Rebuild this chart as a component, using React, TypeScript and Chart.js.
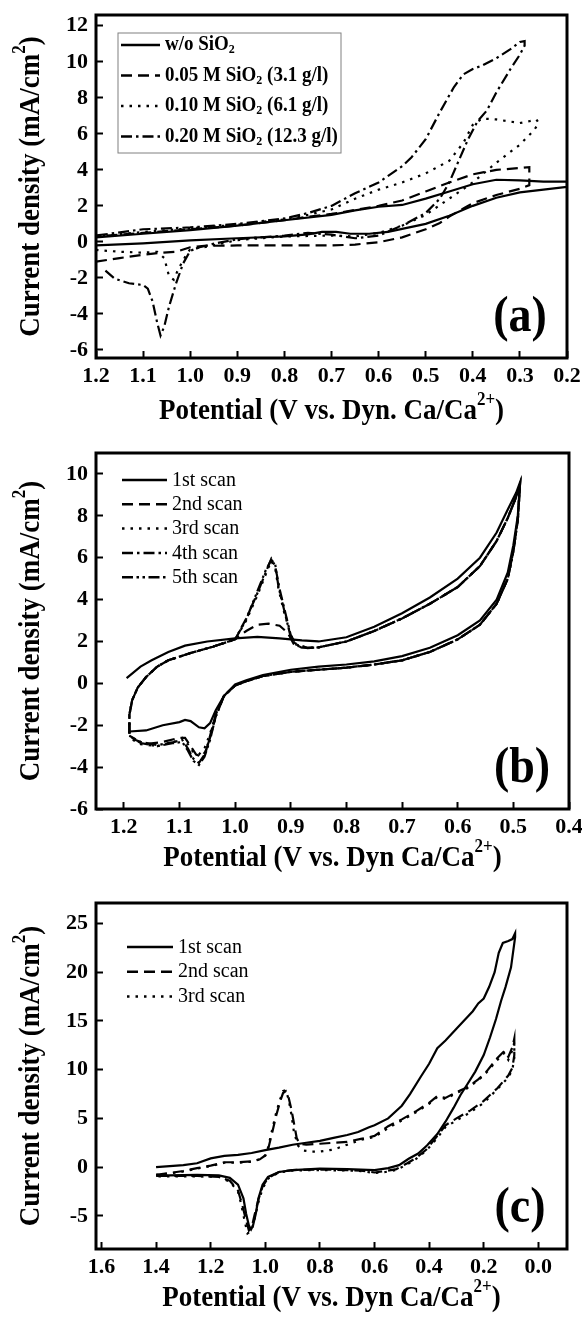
import React, { useEffect, useRef } from "react";
import { Chart, registerables } from "chart.js";

Chart.register(...registerables);

const FONT = "'Liberation Serif', 'Times New Roman', Times, serif";

type XY = [number, number];

// ---------------- Panel (a) ----------------
const A_X_TICKS = [1.2, 1.1, 1.0, 0.9, 0.8, 0.7, 0.6, 0.5, 0.4, 0.3, 0.2];
const A_Y_TICKS = [12, 10, 8, 6, 4, 2, 0, -2, -4, -6];
const A_LABELS = [
  "w/o SiO₂",
  "0.05 M SiO₂ (3.1 g/l)",
  "0.10 M SiO₂ (6.1 g/l)",
  "0.20 M SiO₂ (12.3 g/l)",
];
const A_NO_SIO2: XY[] = [
  [1.2, -0.2], [1.1, -0.08], [1.0, 0.08], [0.9, 0.2], [0.8, 0.3], [0.75, 0.42], [0.72, 0.55],
  [0.69, 0.55], [0.66, 0.45], [0.62, 0.45], [0.58, 0.55], [0.55, 0.72], [0.5, 1.0], [0.45, 1.45],
  [0.4, 2.0], [0.35, 2.45], [0.3, 2.75], [0.25, 2.9], [0.2, 3.05], [0.2, 3.35], [0.25, 3.35],
  [0.3, 3.42], [0.35, 3.45], [0.4, 3.2], [0.45, 2.8], [0.5, 2.4], [0.55, 2.05], [0.6, 1.95],
  [0.65, 1.75], [0.7, 1.5], [0.8, 1.2], [0.9, 0.9], [1.0, 0.65], [1.1, 0.45], [1.2, 0.25],
];
const A_005M: XY[] = [
  [1.2, -1.1], [1.15, -0.9], [1.1, -0.72], [1.06, -0.6], [1.03, -0.55], [1.0, -0.3], [0.97, -0.22],
  [0.9, -0.2], [0.8, -0.2], [0.7, -0.2], [0.65, -0.15], [0.6, -0.02], [0.55, 0.25], [0.5, 0.7],
  [0.47, 1.05], [0.45, 1.4], [0.42, 1.85], [0.4, 2.15], [0.35, 2.6], [0.3, 2.95], [0.28, 3.15],
  [0.28, 4.15], [0.3, 4.1], [0.35, 4.0], [0.4, 3.75], [0.45, 3.3], [0.5, 2.8], [0.55, 2.3],
  [0.6, 2.0], [0.7, 1.55], [0.75, 1.4], [0.8, 1.2], [0.9, 0.9], [1.0, 0.7], [1.1, 0.5], [1.2, 0.3],
];
const A_010M: XY[] = [
  [1.2, -0.45], [1.15, -0.55], [1.1, -0.6], [1.07, -0.55], [1.055, -0.9], [1.045, -1.9], [1.035, -2.1],
  [1.025, -1.5], [1.01, -0.8], [1.0, -0.4], [0.97, -0.3], [0.9, 0.1], [0.8, 0.3], [0.7, 0.35],
  [0.65, 0.3], [0.6, 0.5], [0.55, 0.9], [0.5, 1.5], [0.45, 2.4], [0.4, 3.3], [0.35, 4.4], [0.3, 5.4],
  [0.27, 6.2], [0.26, 6.6], [0.265, 6.8], [0.28, 6.7], [0.3, 6.6], [0.35, 6.8], [0.38, 6.85],
  [0.4, 6.5], [0.42, 5.5], [0.45, 4.5], [0.5, 3.8], [0.55, 3.3], [0.6, 2.9], [0.65, 2.4], [0.7, 1.8],
  [0.75, 1.5], [0.8, 1.25], [0.9, 0.95], [1.0, 0.75], [1.1, 0.55], [1.2, 0.3],
];
const A_020M: XY[] = [
  [1.18, -1.6], [1.16, -2.05], [1.13, -2.3], [1.1, -2.4], [1.09, -2.6], [1.08, -3.3], [1.07, -4.5],
  [1.063, -5.2], [1.055, -4.7], [1.045, -3.6], [1.03, -2.3], [1.015, -1.2], [1.0, -0.5], [0.98, -0.3],
  [0.95, -0.1], [0.9, 0.15], [0.8, 0.35], [0.75, 0.5], [0.7, 0.4], [0.65, 0.2], [0.6, 0.35],
  [0.55, 0.9], [0.5, 1.6], [0.47, 2.4], [0.45, 3.3], [0.43, 4.5], [0.41, 5.7], [0.39, 6.7],
  [0.37, 7.3], [0.35, 8.3], [0.32, 9.6], [0.3, 10.4], [0.29, 10.9], [0.29, 11.15], [0.3, 11.1],
  [0.32, 10.7], [0.35, 10.2], [0.38, 9.8], [0.4, 9.6], [0.42, 9.3], [0.44, 8.6], [0.47, 7.2],
  [0.5, 5.7], [0.53, 4.7], [0.55, 4.2], [0.6, 3.3], [0.65, 2.7], [0.7, 2.0], [0.75, 1.6], [0.8, 1.3],
  [0.9, 1.0], [1.0, 0.8], [1.1, 0.7], [1.2, 0.35],
];

// ---------------- Panel (b) ----------------
const B_X_TICKS = [1.2, 1.1, 1.0, 0.9, 0.8, 0.7, 0.6, 0.5, 0.4];
const B_Y_TICKS = [10, 8, 6, 4, 2, 0, -2, -4, -6];
const B_LABELS = ["1st scan", "2nd scan", "3rd scan", "4th scan", "5th scan"];
const B_SCAN1: XY[] = [
  [1.195, 0.25], [1.17, 0.8], [1.15, 1.1], [1.12, 1.5], [1.09, 1.8], [1.05, 2.0], [1.0, 2.15],
  [0.96, 2.22], [0.92, 2.15], [0.88, 2.05], [0.85, 2.0], [0.8, 2.2], [0.75, 2.7], [0.7, 3.35],
  [0.65, 4.1], [0.6, 5.0], [0.56, 6.0], [0.53, 7.2], [0.51, 8.3], [0.495, 9.1], [0.488, 9.6],
  [0.492, 8.0], [0.5, 6.6], [0.51, 5.3], [0.53, 4.0], [0.56, 3.0], [0.6, 2.3], [0.65, 1.7],
  [0.7, 1.3], [0.75, 1.05], [0.8, 0.9], [0.85, 0.8], [0.9, 0.65], [0.95, 0.4], [0.98, 0.15],
  [1.0, -0.05], [1.02, -0.6], [1.035, -1.3], [1.045, -1.9], [1.055, -2.15], [1.065, -2.1],
  [1.08, -1.8], [1.09, -1.75], [1.1, -1.85], [1.13, -2.0], [1.16, -2.25], [1.19, -2.3],
];
const B_RISE: XY[] = [
  [1.19, -2.4], [1.19, -1.5], [1.185, -0.8], [1.175, -0.2], [1.16, 0.3], [1.14, 0.8], [1.12, 1.1],
  [1.08, 1.45], [1.04, 1.75], [1.0, 2.1],
];
const B_PEAK2: XY[] = [[0.98, 2.5], [0.96, 2.8], [0.94, 2.85], [0.92, 2.75], [0.905, 2.4], [0.895, 1.9], [0.88, 1.7], [0.86, 1.7]];
const B_PEAK3: XY[] = [[0.98, 3.0], [0.96, 4.2], [0.945, 5.2], [0.935, 5.85], [0.928, 5.5], [0.922, 4.5], [0.912, 3.4], [0.9, 2.3], [0.89, 1.85], [0.87, 1.7]];
const B_PEAK4: XY[] = [[0.98, 3.1], [0.96, 4.3], [0.945, 5.3], [0.935, 5.95], [0.928, 5.6], [0.92, 4.5], [0.91, 3.4], [0.9, 2.3], [0.89, 1.85], [0.87, 1.7]];
const B_PEAK5: XY[] = [[0.98, 3.05], [0.96, 4.4], [0.945, 5.4], [0.935, 5.9], [0.928, 5.7], [0.922, 4.6], [0.91, 3.3], [0.9, 2.2], [0.89, 1.8], [0.87, 1.68]];
const B_ANODIC: XY[] = [
  [0.85, 1.72], [0.8, 2.0], [0.75, 2.5], [0.7, 3.1], [0.65, 3.8], [0.6, 4.6], [0.56, 5.6],
  [0.53, 6.8], [0.51, 7.9], [0.495, 8.9], [0.488, 9.5],
];
const B_RETURN: XY[] = [
  [0.492, 7.8], [0.5, 6.3], [0.51, 5.0], [0.53, 3.8], [0.56, 2.8], [0.6, 2.1], [0.65, 1.5],
  [0.7, 1.1], [0.75, 0.9], [0.8, 0.75], [0.85, 0.65], [0.9, 0.55], [0.95, 0.35], [0.98, 0.1], [1.0, -0.1],
];
const B_CATH2: XY[] = [[1.02, -0.6], [1.035, -1.5], [1.045, -2.5], [1.052, -3.2], [1.06, -3.5], [1.07, -3.4], [1.08, -3.0], [1.09, -2.6], [1.1, -2.6], [1.13, -2.8], [1.16, -2.9], [1.18, -2.7], [1.19, -2.5]];
const B_CATH3: XY[] = [[1.02, -0.6], [1.035, -1.5], [1.045, -2.4], [1.055, -3.1], [1.065, -3.4], [1.075, -3.3], [1.085, -2.9], [1.095, -2.6], [1.11, -2.8], [1.14, -3.0], [1.17, -2.9], [1.19, -2.6]];
const B_CATH4: XY[] = [[1.02, -0.6], [1.035, -1.6], [1.045, -2.6], [1.055, -3.4], [1.065, -3.8], [1.075, -3.6], [1.085, -3.1], [1.095, -2.7], [1.11, -2.8], [1.14, -2.95], [1.17, -2.8], [1.19, -2.5]];
const B_CATH5: XY[] = [[1.02, -0.6], [1.035, -1.6], [1.045, -2.7], [1.055, -3.5], [1.065, -3.9], [1.075, -3.7], [1.085, -3.2], [1.095, -2.8], [1.11, -2.85], [1.14, -3.0], [1.17, -2.85], [1.19, -2.5]];

// ---------------- Panel (c) ----------------
const C_X_TICKS = [1.6, 1.4, 1.2, 1.0, 0.8, 0.6, 0.4, 0.2, 0.0];
const C_Y_TICKS = [25, 20, 15, 10, 5, 0, -5];
const C_LABELS = ["1st scan", "2nd scan", "3rd scan"];
const C_SCAN1: XY[] = [
  [1.4, 0.0], [1.3, 0.2], [1.25, 0.4], [1.2, 0.9], [1.15, 1.15], [1.1, 1.25], [1.05, 1.45], [1.0, 1.75],
  [0.95, 2.0], [0.9, 2.3], [0.85, 2.5], [0.8, 2.7], [0.75, 3.0], [0.7, 3.3], [0.66, 3.6], [0.62, 4.1],
  [0.6, 4.3], [0.55, 5.0], [0.5, 6.3], [0.47, 7.5], [0.43, 9.3], [0.4, 10.6], [0.37, 12.2], [0.34, 13.0],
  [0.3, 14.2], [0.27, 15.1], [0.24, 16.0], [0.22, 16.8], [0.2, 17.3], [0.18, 18.5], [0.16, 20.0],
  [0.145, 22.0], [0.13, 23.0], [0.11, 23.2], [0.095, 23.4], [0.085, 24.0], [0.085, 23.6], [0.1, 20.5],
  [0.12, 18.5], [0.136, 17.1], [0.155, 15.2], [0.177, 13.3], [0.2, 11.5], [0.231, 9.8], [0.26, 8.5],
  [0.285, 7.4], [0.31, 6.1], [0.34, 4.66], [0.37, 3.4], [0.407, 2.24], [0.44, 1.4], [0.475, 0.86],
  [0.51, 0.2], [0.55, -0.1], [0.6, -0.3], [0.7, -0.2], [0.8, -0.15], [0.9, -0.3], [0.95, -0.5],
  [0.99, -1.0], [1.01, -1.8], [1.025, -3.2], [1.035, -4.8], [1.045, -6.0], [1.052, -6.4], [1.06, -6.0],
  [1.07, -4.8], [1.08, -3.2], [1.1, -1.8], [1.13, -1.1], [1.17, -0.85], [1.25, -0.8], [1.35, -0.85], [1.4, -0.9],
];
const C_SCAN2: XY[] = [
  [1.4, -0.8], [1.35, -0.6], [1.3, -0.4], [1.25, -0.1], [1.2, 0.15], [1.15, 0.5], [1.1, 0.5], [1.05, 0.6],
  [1.02, 0.8], [1.0, 1.2], [0.99, 1.8], [0.975, 3.5], [0.96, 5.3], [0.945, 6.8], [0.935, 7.6], [0.925, 7.8],
  [0.915, 7.2], [0.905, 6.0], [0.895, 4.5], [0.885, 3.0], [0.875, 2.4], [0.85, 2.3], [0.8, 2.4], [0.75, 2.5],
  [0.7, 2.6], [0.65, 2.9], [0.6, 3.2], [0.55, 4.2], [0.5, 4.9], [0.45, 5.7], [0.4, 6.6], [0.37, 7.3],
  [0.34, 7.1], [0.3, 7.7], [0.26, 8.2], [0.22, 9.0], [0.19, 9.8], [0.15, 11.2], [0.125, 11.9], [0.11, 11.3],
  [0.095, 12.3], [0.088, 13.2], [0.088, 11.5], [0.095, 10.2], [0.11, 9.4], [0.15, 8.1], [0.2, 6.8],
  [0.25, 5.8], [0.3, 5.0], [0.34, 4.3], [0.37, 3.2], [0.41, 1.8], [0.45, 0.9], [0.48, 0.4], [0.52, -0.2],
  [0.56, -0.4], [0.6, -0.55], [0.65, -0.35], [0.7, -0.3], [0.8, -0.25], [0.9, -0.3], [0.95, -0.5],
  [0.99, -1.1], [1.01, -2.0], [1.025, -3.3], [1.04, -5.0], [1.05, -6.2], [1.06, -6.5], [1.07, -5.5],
  [1.085, -3.8], [1.1, -2.4], [1.13, -1.4], [1.17, -1.0], [1.25, -0.9], [1.35, -0.9], [1.4, -0.9],
];
const C_SCAN3: XY[] = [
  [1.4, -0.8], [1.35, -0.65], [1.3, -0.45], [1.25, -0.15], [1.2, 0.1], [1.15, 0.45], [1.1, 0.45],
  [1.05, 0.55], [1.02, 0.8], [1.0, 1.2], [0.99, 2.0], [0.975, 3.8], [0.96, 5.6], [0.945, 7.0], [0.935, 7.8],
  [0.925, 7.9], [0.915, 7.0], [0.905, 5.5], [0.895, 3.6], [0.88, 2.2], [0.86, 1.7], [0.83, 1.6], [0.8, 1.6],
  [0.75, 1.8], [0.7, 2.3], [0.65, 2.8], [0.6, 3.1], [0.55, 4.0], [0.5, 4.8], [0.45, 5.6], [0.4, 6.5],
  [0.37, 7.2], [0.34, 7.0], [0.3, 7.6], [0.26, 8.1], [0.22, 8.9], [0.19, 9.7], [0.15, 11.0], [0.125, 11.7],
  [0.11, 11.0], [0.095, 12.0], [0.088, 12.8], [0.088, 11.2], [0.095, 10.0], [0.11, 9.2], [0.15, 8.0],
  [0.2, 6.6], [0.25, 5.6], [0.3, 4.8], [0.34, 4.1], [0.37, 3.0], [0.41, 1.7], [0.45, 0.8], [0.48, 0.3],
  [0.52, -0.3], [0.56, -0.5], [0.6, -0.6], [0.65, -0.4], [0.7, -0.35], [0.8, -0.3], [0.9, -0.35],
  [0.95, -0.55], [0.99, -1.2], [1.01, -2.2], [1.025, -3.6], [1.04, -5.4], [1.05, -6.5], [1.065, -6.8],
  [1.075, -5.6], [1.09, -3.6], [1.1, -2.5], [1.13, -1.5], [1.17, -1.0], [1.25, -0.95], [1.35, -0.95], [1.4, -0.95],
];

// ---------------- Line styles ----------------
const DASH_SOLID: number[] = [];
const DASH_DASHED = [11, 6];
const DASH_DOTTED = [2.5, 6];
const DASH_DASHDOT = [11, 4, 2.5, 4];
const DASH_DASHDOTDOT = [11, 3.5, 2.5, 3.5, 2.5, 3.5];

interface Series { label: string; data: XY[]; dash: number[] }
interface LegendSpec {
  left: number; top: number; rowGap: number; lineLen: number; textGap: number;
  size: number; weight: string; box?: { x: number; y: number; w: number; h: number };
}
interface PanelSpec {
  tag: string; height: number;
  xTicks: number[]; yTicks: number[];
  xMin: number; xMax: number; yMin: number; yMax: number;
  xTitle: string; yTitle: string;
  padTop: number; padRight: number; padBottom: number;
  xTitleGap: number;
  series: Series[];
  legend: LegendSpec;
}

const Y_TITLE = "Current density (mA/cm²)";

const PANELS: PanelSpec[] = [
  {
    tag: "(a)", height: 440,
    xTicks: A_X_TICKS, yTicks: A_Y_TICKS, xMin: 0.2, xMax: 1.2, yMin: -6.45, yMax: 12.6,
    xTitle: "Potential (V vs. Dyn. Ca/Ca²⁺)", yTitle: Y_TITLE,
    padTop: 15, padRight: 15, padBottom: 42, xTitleGap: 53,
    series: [
      { label: A_LABELS[0], data: A_NO_SIO2, dash: DASH_SOLID },
      { label: A_LABELS[1], data: A_005M, dash: DASH_DASHED },
      { label: A_LABELS[2], data: A_010M, dash: DASH_DOTTED },
      { label: A_LABELS[3], data: A_020M, dash: DASH_DASHDOT },
    ],
    legend: { left: 25, top: 30, rowGap: 30.5, lineLen: 39, textGap: 5, size: 19, weight: "bold", box: { x: 22, y: 18, w: 223, h: 120 } },
  },
  {
    tag: "(b)", height: 440,
    xTicks: B_X_TICKS, yTicks: B_Y_TICKS, xMin: 0.4, xMax: 1.25, yMin: -6, yMax: 11,
    xTitle: "Potential (V vs. Dyn Ca/Ca²⁺)", yTitle: Y_TITLE,
    padTop: 13, padRight: 13, padBottom: 31, xTitleGap: 49,
    series: [
      { label: B_LABELS[0], data: B_SCAN1, dash: DASH_SOLID },
      { label: B_LABELS[1], data: [...B_RISE, ...B_PEAK2, ...B_ANODIC, ...B_RETURN, ...B_CATH2], dash: DASH_DASHED },
      { label: B_LABELS[2], data: [...B_RISE, ...B_PEAK3, ...B_ANODIC, ...B_RETURN, ...B_CATH3], dash: DASH_DOTTED },
      { label: B_LABELS[3], data: [...B_RISE, ...B_PEAK4, ...B_ANODIC, ...B_RETURN, ...B_CATH4], dash: DASH_DASHDOT },
      { label: B_LABELS[4], data: [...B_RISE, ...B_PEAK5, ...B_ANODIC, ...B_RETURN, ...B_CATH5], dash: DASH_DASHDOTDOT },
    ],
    legend: { left: 26, top: 27, rowGap: 24.3, lineLen: 45, textGap: 5, size: 20, weight: "normal" },
  },
  {
    tag: "(c)", height: 437,
    xTicks: C_X_TICKS, yTicks: C_Y_TICKS, xMin: -0.105, xMax: 1.62, yMin: -8.4, yMax: 27.1,
    xTitle: "Potential (V vs. Dyn Ca/Ca²⁺)", yTitle: Y_TITLE,
    padTop: 23, padRight: 15, padBottom: 28, xTitleGap: 49,
    series: [
      { label: C_LABELS[0], data: C_SCAN1, dash: DASH_SOLID },
      { label: C_LABELS[1], data: C_SCAN2, dash: DASH_DASHED },
      { label: C_LABELS[2], data: C_SCAN3, dash: DASH_DOTTED },
    ],
    legend: { left: 31, top: 44, rowGap: 24.7, lineLen: 46, textGap: 5, size: 20, weight: "normal" },
  },
];

// ---------------- Rich text helper (sub/superscripts) ----------------
const SUP: Record<string, string> = { "²": "2", "⁺": "+" };
const SUB: Record<string, string> = { "₂": "2" };

function parseRich(text: string) {
  const segs: { t: string; k: number }[] = [];
  for (const ch of text) {
    const k = SUP[ch] ? 1 : SUB[ch] ? -1 : 0;
    const c = SUP[ch] || SUB[ch] || ch;
    const last = segs[segs.length - 1];
    if (last && last.k === k) last.t += c;
    else segs.push({ t: c, k });
  }
  return segs;
}

function drawRich(ctx: CanvasRenderingContext2D, text: string, x: number, y: number, size: number, weight: string, align: "left" | "center", stretch = 1) {
  const segs = parseRich(text);
  const small = Math.round(size * 0.62);
  const fontFor = (k: number) => `${weight} ${k === 0 ? size : small}px ${FONT}`;
  let total = 0;
  const widths = segs.map((s) => {
    ctx.font = fontFor(s.k);
    const w = ctx.measureText(s.t).width;
    total += w;
    return w;
  });
  ctx.save();
  ctx.translate(x, y);
  ctx.scale(1, stretch);
  let cx = align === "center" ? -total / 2 : 0;
  ctx.textAlign = "left";
  ctx.textBaseline = "middle";
  ctx.fillStyle = "#000";
  segs.forEach((s, i) => {
    ctx.font = fontFor(s.k);
    const dy = s.k === 1 ? -size * 0.36 : s.k === -1 ? size * 0.24 : 0;
    ctx.fillText(s.t, cx, dy);
    cx += widths[i];
  });
  ctx.restore();
}

function decoPlugin(spec: PanelSpec) {
  return {
    id: "deco",
    afterDraw(chart: any) {
      const { ctx, chartArea: ca } = chart;
      ctx.save();
      // frame
      ctx.setLineDash([]);
      ctx.strokeStyle = "#000";
      ctx.lineWidth = 3;
      ctx.strokeRect(ca.left, ca.top, ca.right - ca.left, ca.bottom - ca.top);
      // axis titles
      drawRich(ctx, spec.xTitle, (ca.left + ca.right) / 2, ca.bottom + spec.xTitleGap, 27, "bold", "center", 1.12);
      ctx.save();
      ctx.translate(31, (ca.top + ca.bottom) / 2);
      ctx.rotate(-Math.PI / 2);
      drawRich(ctx, spec.yTitle, 0, 0, 27, "bold", "center", 1.12);
      ctx.restore();
      // panel tag
      ctx.save();
      ctx.translate(ca.right - 47, ca.bottom - 40);
      ctx.scale(1, 1.1);
      ctx.font = `bold 46px ${FONT}`;
      ctx.textAlign = "center";
      ctx.textBaseline = "middle";
      ctx.fillStyle = "#000";
      ctx.fillText(spec.tag, 0, 0);
      ctx.restore();
      // legend
      const lg = spec.legend;
      if (lg.box) {
        ctx.lineWidth = 1;
        ctx.strokeStyle = "#808080";
        ctx.strokeRect(ca.left + lg.box.x, ca.top + lg.box.y, lg.box.w, lg.box.h);
      }
      chart.data.datasets.forEach((ds: any, i: number) => {
        const x0 = ca.left + lg.left;
        const y = ca.top + lg.top + i * lg.rowGap;
        ctx.strokeStyle = "#000";
        ctx.lineWidth = 2.5;
        ctx.setLineDash(ds.borderDash || []);
        ctx.beginPath();
        ctx.moveTo(x0, y);
        ctx.lineTo(x0 + lg.lineLen, y);
        ctx.stroke();
        ctx.setLineDash([]);
        drawRich(ctx, ds.label, x0 + lg.lineLen + lg.textGap, y, lg.size, lg.weight, "left", 1.08);
      });
      ctx.restore();
    },
  };
}

function buildConfig(spec: PanelSpec): any {
  const tickFont = { family: FONT, size: 22, weight: "bold" as const };
  const grid = { display: true, drawOnChartArea: false, drawTicks: true, tickLength: -7, tickWidth: 2, tickColor: "#000" };
  return {
    type: "scatter",
    data: {
      datasets: spec.series.map((s) => ({
        label: s.label,
        data: s.data.map(([x, y]) => ({ x, y })),
        showLine: true,
        borderColor: "#000",
        backgroundColor: "#000",
        borderWidth: 2.2,
        borderDash: s.dash,
        pointRadius: 0,
        pointHoverRadius: 0,
        fill: false,
        tension: 0,
      })),
    },
    options: {
      responsive: false,
      animation: false,
      devicePixelRatio: 1,
      events: [],
      layout: { padding: { left: 0, top: spec.padTop, right: spec.padRight, bottom: spec.padBottom } },
      plugins: { legend: { display: false }, tooltip: { enabled: false } },
      scales: {
        x: {
          type: "linear",
          reverse: true,
          min: spec.xMin,
          max: spec.xMax,
          afterBuildTicks: (s: any) => { s.ticks = spec.xTicks.map((v) => ({ value: v })); },
          afterFit: (s: any) => { s.height = 40; s.paddingLeft = 0; s.paddingRight = 0; },
          ticks: { font: tickFont, color: "#000", padding: 12, maxRotation: 0, autoSkip: false, callback: (v: any) => Number(v).toFixed(1) },
          grid,
          border: { display: false },
        },
        y: {
          type: "linear",
          min: spec.yMin,
          max: spec.yMax,
          afterBuildTicks: (s: any) => { s.ticks = spec.yTicks.map((v) => ({ value: v })); },
          afterFit: (s: any) => { s.width = 96; s.paddingTop = 0; s.paddingBottom = 0; },
          ticks: { font: tickFont, color: "#000", padding: 15, autoSkip: false, callback: (v: any) => String(v) },
          grid,
          border: { display: false },
        },
      },
    },
    plugins: [decoPlugin(spec)],
  };
}

function Panel({ spec }: { spec: PanelSpec }) {
  const ref = useRef<HTMLCanvasElement>(null);
  useEffect(() => {
    if (!ref.current) return;
    const chart = new Chart(ref.current, buildConfig(spec));
    return () => chart.destroy();
  }, [spec]);
  return <canvas ref={ref} width={582} height={spec.height} style={{ display: "block", width: 582, height: spec.height }} />;
}

export default function App() {
  return (
    <div style={{ position: "absolute", left: 0, top: 0, width: 582, height: 1317, background: "#fff", overflow: "hidden" }}>
      {PANELS.map((p) => <Panel key={p.tag} spec={p} />)}
    </div>
  );
}
